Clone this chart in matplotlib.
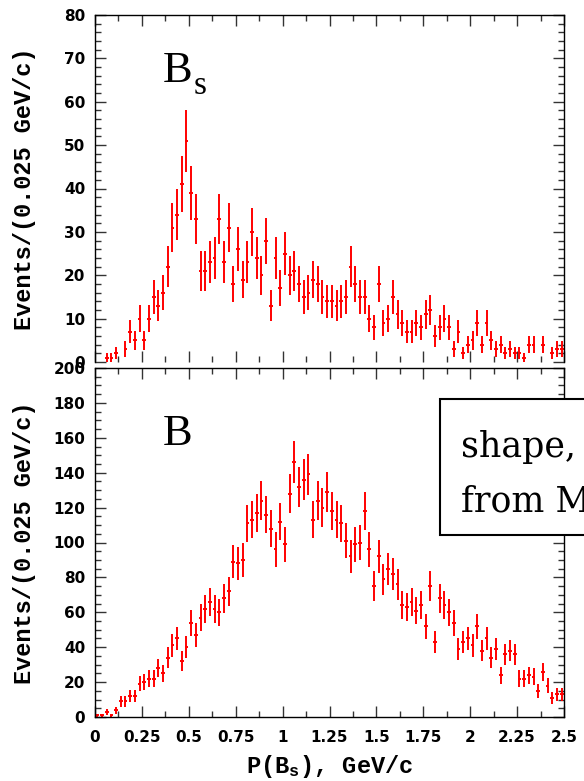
import numpy as np
import matplotlib

matplotlib.use("Agg")
import matplotlib.pyplot as plt
from matplotlib.patches import Rectangle
from matplotlib.ticker import MultipleLocator, FixedLocator

# histogram binning: 100 bins of 0.025 GeV/c between 0 and 2.5
bin_edges = np.linspace(0.0, 2.5, 101)

bs_counts = [
    0, 0, 1, 1, 2, 0, 3, 7, 5, 10,
    5, 10, 15, 13, 16, 22, 31, 34, 41, 51,
    39, 33, 21, 21, 23, 24, 33, 23, 31, 18,
    26, 19, 23, 30, 24, 20, 28, 13, 24, 17,
    25, 20, 21, 18, 15, 16, 19, 18, 15, 14,
    14, 13, 14, 15, 22, 18, 15, 15, 10, 8,
    18, 9, 10, 15, 11, 9, 7, 7, 9, 8,
    11, 12, 6, 8, 10, 8, 3, 7, 2, 4,
    5, 9, 4, 9, 5, 3, 4, 2, 3, 2,
    2, 1, 4, 4, 0, 4, 0, 2, 3, 3,
]

b_counts = [
    1, 1, 3, 1, 4, 9, 9, 12, 12, 19,
    20, 22, 22, 28, 25, 34, 41, 45, 32, 40,
    54, 47, 57, 62, 66, 62, 60, 68, 72, 89,
    88, 90, 111, 113, 117, 124, 116, 108, 96, 112,
    99, 128, 146, 132, 136, 139, 113, 124, 120, 129,
    118, 113, 111, 101, 92, 99, 100, 118, 96, 75,
    92, 79, 85, 82, 76, 64, 63, 66, 61, 64,
    52, 75, 43, 68, 64, 60, 54, 39, 43, 45,
    41, 52, 38, 45, 34, 39, 24, 36, 38, 36,
    22, 22, 24, 23, 15, 26, 18, 11, 13, 13,
]

x_tick_values = [0, 0.25, 0.5, 0.75, 1, 1.25, 1.5, 1.75, 2, 2.25, 2.5]
x_tick_labels = ["0", "0.25", "0.5", "0.75", "1", "1.25", "1.5", "1.75", "2", "2.25", "2.5"]

plt.rcParams["mathtext.fontset"] = "custom"
plt.rcParams["mathtext.rm"] = "Liberation Mono:bold"
plt.rcParams["mathtext.it"] = "Liberation Mono:bold"

TICK_FONT = dict(family="DejaVu Sans", weight="bold", size=11)
LABEL_FONT = dict(family="Liberation Mono", weight="bold", size=17)
SERIF = "Liberation Serif"


def draw_hist(ax, counts, ymax, major, minor):
    counts = np.asarray(counts, dtype=float)
    centers = 0.5 * (bin_edges[:-1] + bin_edges[1:])
    half = 0.5 * np.diff(bin_edges)
    keep = counts > 0
    ax.errorbar(
        centers[keep], counts[keep],
        yerr=np.sqrt(counts[keep]), xerr=half[keep] * 0.8,
        fmt="none", ecolor="#ff0000", elinewidth=1.4, capsize=0,
    )
    ax.set_xlim(0, 2.5)
    ax.set_ylim(0, ymax)
    ax.xaxis.set_major_locator(FixedLocator(x_tick_values))
    ax.xaxis.set_minor_locator(MultipleLocator(0.125))
    ax.yaxis.set_major_locator(MultipleLocator(major))
    ax.yaxis.set_minor_locator(MultipleLocator(minor))
    ax.tick_params(which="both", direction="in", top=True, right=True, width=1.0, color="#333333")
    ax.tick_params(which="major", length=8)
    ax.tick_params(which="minor", length=4)
    ax.tick_params(axis="y", which="major", pad=7)
    ax.tick_params(axis="x", which="major", pad=9)
    for spine in ax.spines.values():
        spine.set_linewidth(1.0)
    yt = np.arange(0, ymax + 1, major)
    ax.set_yticks(yt)
    ax.set_yticklabels([str(int(v)) for v in yt], fontdict=TICK_FONT)
    ax.set_ylabel("Events/(0.025 GeV/c)", fontdict=LABEL_FONT)
    ax.yaxis.set_label_coords(-0.125, 0.5)


fig = plt.figure(figsize=(5.84, 7.81), dpi=100)
ax_top = fig.add_axes([95 / 584, 1 - 362 / 781, 469 / 584, 347 / 781])
ax_bot = fig.add_axes([95 / 584, 1 - 717 / 781, 469 / 584, 349 / 781])

draw_hist(ax_top, bs_counts, 80, 10, 2)
ax_top.set_xticklabels([])
ax_top.spines["bottom"].set_visible(False)

draw_hist(ax_bot, b_counts, 200, 20, 5)
ax_bot.set_xticklabels(x_tick_labels, fontdict=TICK_FONT)
ax_bot.set_xlabel(r"P(B$_\mathrm{s}$), GeV/c", fontdict=LABEL_FONT, labelpad=6)

# panel labels
fig.text(163 / 584, 1 - 82 / 781, "B", family=SERIF, size=32, ha="left", va="baseline")
fig.text(194 / 584, 1 - 94 / 781, "s", family=SERIF, size=24, ha="left", va="baseline")
fig.text(163 / 584, 1 - 445 / 781, "B", family=SERIF, size=32, ha="left", va="baseline")

# annotation box, running off the right edge as in the original
fig.patches.append(Rectangle((440 / 584, 1 - 535 / 781), 0.3, 136 / 781,
                             transform=fig.transFigure, fill=True, facecolor="white",
                             edgecolor="black", linewidth=1.5))
fig.text(461 / 584, 1 - 457 / 781, "shape,", family="DejaVu Serif", size=25, ha="left", va="baseline")
fig.text(461 / 584, 1 - 512 / 781, "from M", family="DejaVu Serif", size=25, ha="left", va="baseline")

fig.savefig("out.png", dpi=100)
